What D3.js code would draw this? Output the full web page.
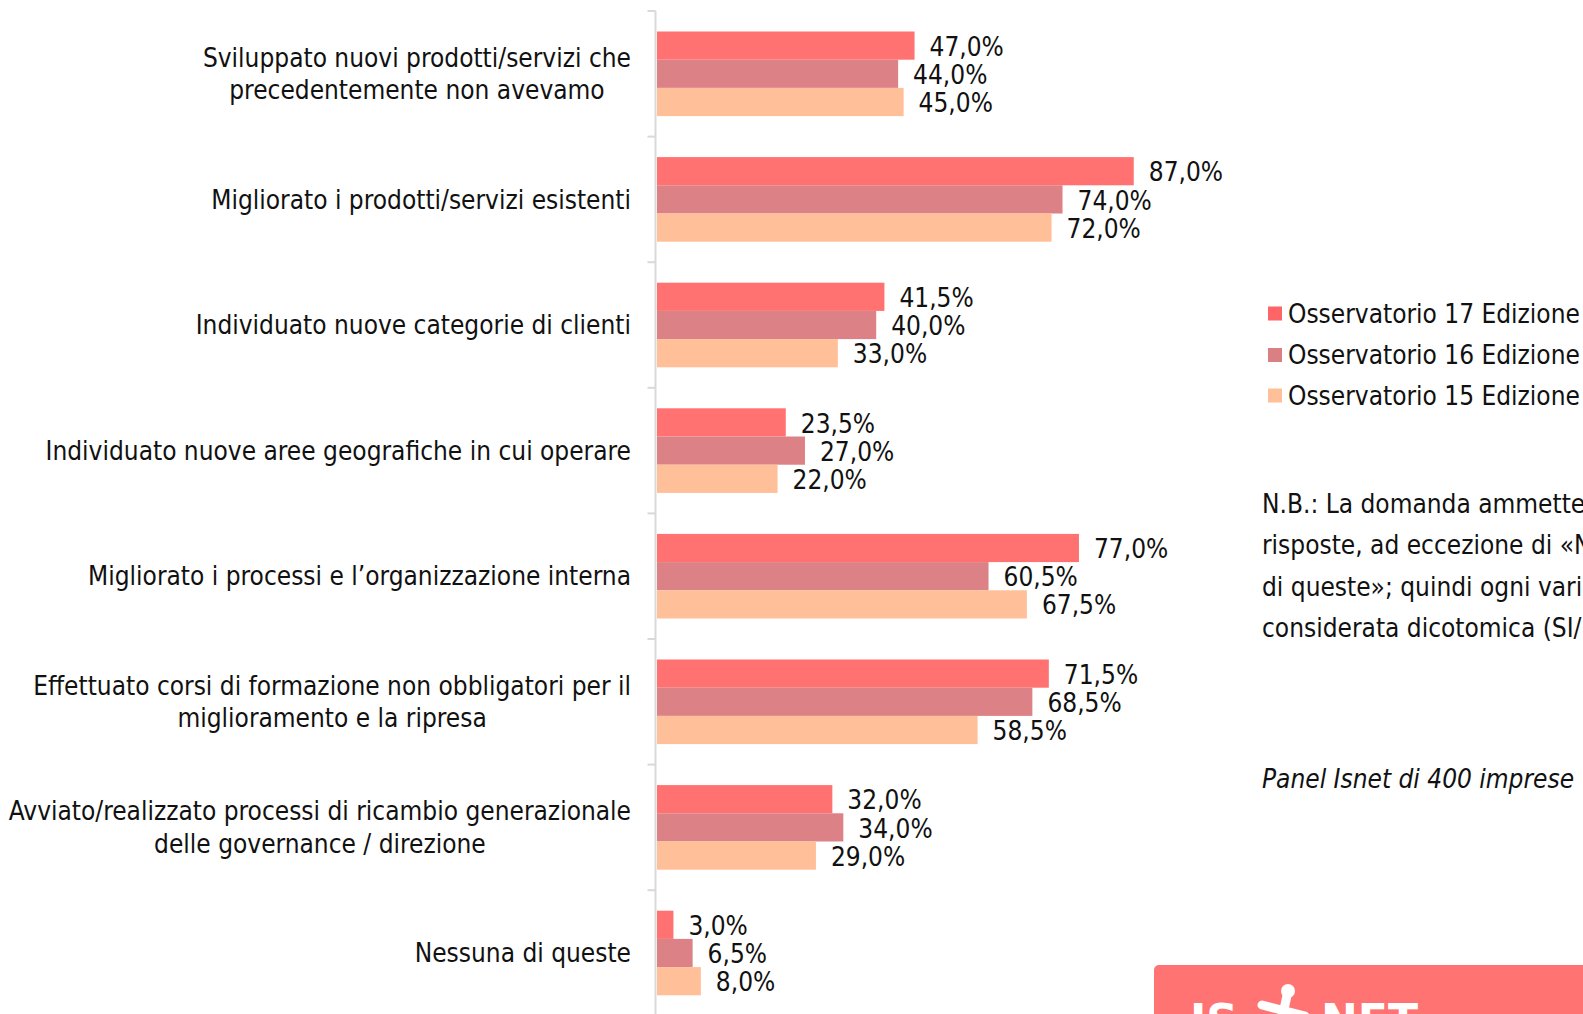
<!DOCTYPE html>
<html>
<head>
<meta charset="utf-8">
<script src="https://cdn.jsdelivr.net/npm/d3@7"></script>
<style>
  html, body { margin: 0; padding: 0; background: #fff; overflow: hidden; }
  svg { display: block; }
  text { font-family: "DejaVu Sans Condensed", "DejaVu Sans", sans-serif; fill: #111; }
</style>
</head>
<body>
<svg id="chart" width="1583" height="1014"></svg>
<script>
const categories = [
  ["Sviluppato nuovi prodotti/servizi che", "precedentemente non avevamo"],
  ["Migliorato i prodotti/servizi esistenti"],
  ["Individuato nuove categorie di clienti"],
  ["Individuato nuove aree geografiche in cui operare"],
  ["Migliorato i processi e l\u2019organizzazione interna"],
  ["Effettuato corsi di formazione non obbligatori per il", "miglioramento e la ripresa"],
  ["Avviato/realizzato processi di ricambio generazionale", "delle governance / direzione"],
  ["Nessuna di queste"]
];
const seriesNames = ["Osservatorio 17 Edizione", "Osservatorio 16 Edizione", "Osservatorio 15 Edizione"];
const ed17 = [47.0, 87.0, 41.5, 23.5, 77.0, 71.5, 32.0, 3.0];
const ed16 = [44.0, 74.0, 40.0, 27.0, 60.5, 68.5, 34.0, 6.5];
const ed15 = [45.0, 72.0, 33.0, 22.0, 67.5, 58.5, 29.0, 8.0];
const seriesValues = [ed17, ed16, ed15];
const barColors = ["#FF7271", "#DC8185", "#FFBF98"];
const legendColors = ["#FF6467", "#DA8084", "#FFBF98"];
const noteLines = [
  "N.B.: La domanda ammette pi\u00f9",
  "risposte, ad eccezione di \u00abNessuna",
  "di queste\u00bb; quindi ogni variabile \u00e8",
  "considerata dicotomica (SI/NO)"
];
const panelText = "Panel Isnet di 400 imprese";

const svg = d3.select("#chart");
const FS = 26;

const catIdx = d3.range(categories.length);
const y = d3.scaleBand().domain(catIdx).range([11, 11 + 125.6 * categories.length]).padding(0);
const ySub = d3.scaleBand().domain(d3.range(seriesNames.length)).range([0, y.bandwidth()]).paddingInner(0).paddingOuter(0.727);
const x = d3.scaleLinear().domain([0, 100]).range([657, 1205]);

// axis
const axisG = svg.append("g").attr("transform", "translate(655.5,0)");
axisG.append("line").attr("x1", 0).attr("x2", 0).attr("y1", 11).attr("y2", 1014)
  .attr("stroke", "#D9D9D9").attr("stroke-width", 2);
axisG.selectAll("line.tick").data(d3.range(categories.length + 1)).join("line")
  .attr("class", "tick")
  .attr("x1", -8).attr("x2", 0)
  .attr("y1", d => 11 + d * y.step()).attr("y2", d => 11 + d * y.step())
  .attr("stroke", "#D9D9D9").attr("stroke-width", 2);

// category labels (multi-line blocks right-aligned, lines centred within block)
const catG = svg.append("g");
const RIGHT = 631;
catIdx.forEach(i => {
  const lines = categories[i];
  const cy = y(i) + y.bandwidth() / 2;
  const lh = 32.4;
  const nodes = lines.map((ln, j) => catG.append("text")
      .attr("y", cy + (j - (lines.length - 1) / 2) * lh)
      .attr("dy", "0.35em")
      .style("font-size", FS + "px")
      .text(ln));
  if (lines.length === 1) {
    nodes[0].attr("x", RIGHT).attr("text-anchor", "end");
  } else {
    const maxW = d3.max(nodes, n => n.node().getComputedTextLength());
    nodes.forEach(n => n.attr("x", RIGHT - maxW / 2).attr("text-anchor", "middle"));
  }
});

// bars
const barsG = svg.append("g");
seriesValues.forEach((vals, s) => {
  barsG.selectAll("rect.s" + s).data(vals).join("rect")
    .attr("class", "s" + s)
    .attr("x", x(0))
    .attr("y", (d, i) => y(i) + ySub(s))
    .attr("width", d => x(d) - x(0))
    .attr("height", ySub.bandwidth())
    .attr("fill", barColors[s]);
});
// value labels
seriesValues.forEach((vals, s) => {
  barsG.selectAll("text.l" + s).data(vals).join("text")
    .attr("class", "l" + s)
    .attr("x", d => x(d) + 15)
    .attr("y", (d, i) => y(i) + ySub(s) + ySub.bandwidth() / 2 + 1)
    .attr("dy", "0.35em")
    .style("font-size", FS + "px")
    .text(d => d3.format(".1f")(d).replace(".", ",") + "%");
});

// legend
const legG = svg.append("g");
const legY = [313.5, 355, 395.5];
seriesNames.forEach((n, s) => {
  legG.append("rect").attr("x", 1268).attr("y", legY[s] - 7).attr("width", 14).attr("height", 14)
    .attr("fill", legendColors[s]);
  legG.append("text").attr("x", 1288).attr("y", legY[s]).attr("dy", "0.35em")
    .style("font-size", FS + "px").text(n);
});

// note
const noteY = [503.5, 545, 586.5, 628];
noteLines.forEach((t, i) => {
  svg.append("text").attr("x", 1262).attr("y", noteY[i]).attr("dy", "0.35em")
    .style("font-size", FS + "px").text(t);
});
svg.append("text").attr("x", 1262).attr("y", 779).attr("dy", "0.35em")
  .style("font-size", FS + "px").style("font-style", "italic").text(panelText);

// logo block
const logo = svg.append("g");
logo.append("rect").attr("x", 1154).attr("y", 965).attr("width", 460).attr("height", 80).attr("rx", 5)
  .attr("fill", "#FF7472");
logo.append("text").attr("x", 1190).attr("y", 1036)
  .style("font-family", "'DejaVu Sans', sans-serif").style("font-weight", "bold").style("font-size", "44px")
  .style("fill", "#fff").text("IS");
logo.append("text").attr("x", 1321).attr("y", 1036)
  .style("font-family", "'DejaVu Sans', sans-serif").style("font-weight", "bold").style("font-size", "44px")
  .style("fill", "#fff").text("NET");
logo.append("line").attr("x1", 1288).attr("y1", 991).attr("x2", 1283).attr("y2", 1014)
  .attr("stroke", "#fff").attr("stroke-width", 9).attr("stroke-linecap", "round");
logo.append("line").attr("x1", 1262).attr("y1", 1005).attr("x2", 1305).attr("y2", 1016)
  .attr("stroke", "#fff").attr("stroke-width", 9).attr("stroke-linecap", "round");
logo.append("circle").attr("cx", 1288).attr("cy", 991).attr("r", 7).attr("fill", "#fff");
</script>
</body>
</html>
